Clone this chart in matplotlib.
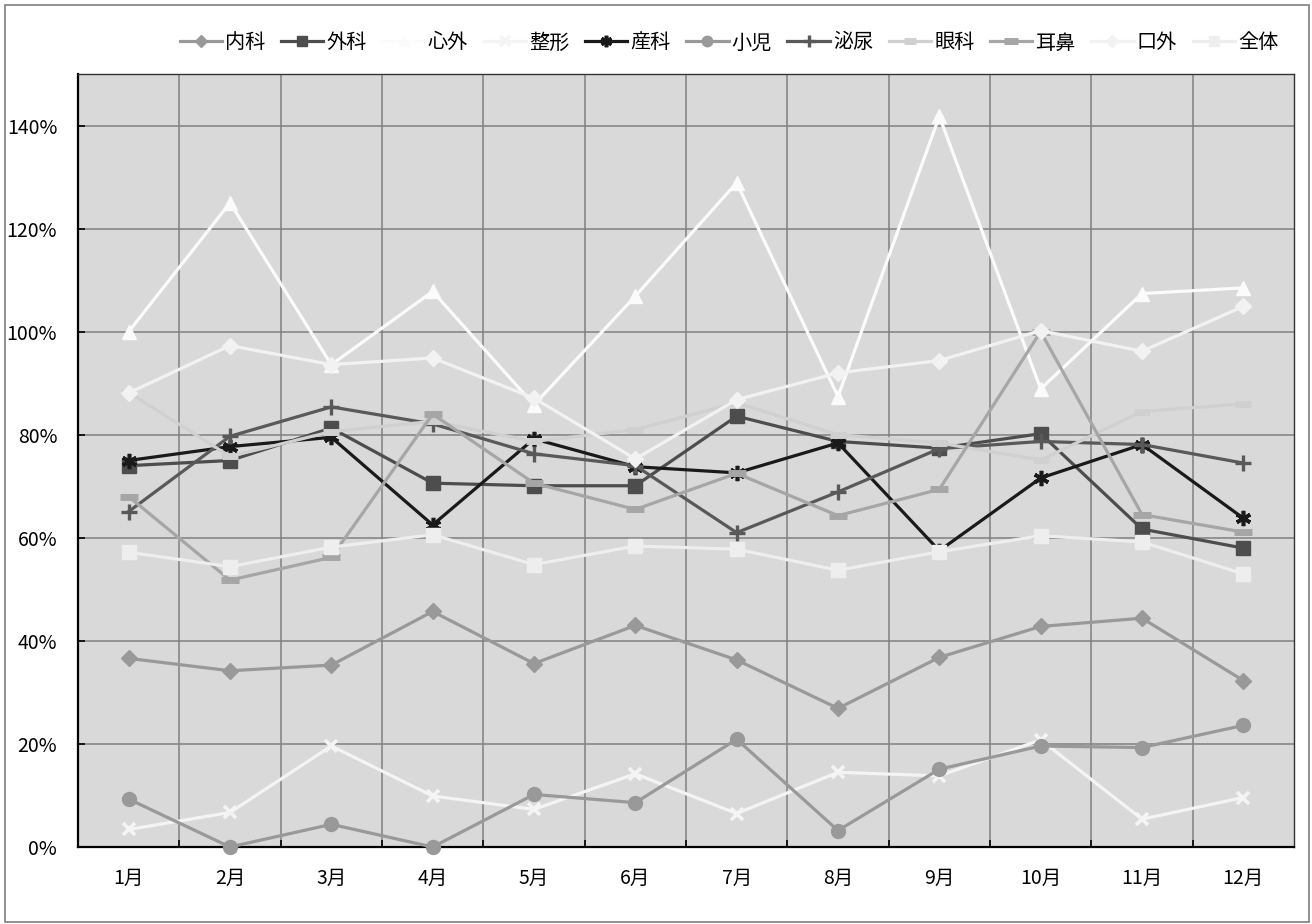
import matplotlib
matplotlib.use("Agg")
import matplotlib.pyplot as plt
from matplotlib.patches import Rectangle
from matplotlib.ticker import FixedLocator, FuncFormatter

plt.rcParams['font.family'] = ['Noto Sans CJK JP', 'DejaVu Sans']

months = ["1月", "2月", "3月", "4月", "5月", "6月", "7月", "8月", "9月", "10月", "11月", "12月"]

naika   = [36.6, 34.2, 35.3, 45.7, 35.6, 43.0, 36.3, 26.9, 36.8, 42.8, 44.4, 32.3]
geka    = [74.0, 75.0, 81.3, 70.6, 70.1, 70.1, 83.6, 78.7, 77.4, 80.2, 61.7, 58.0]
shingai = [100.0, 125.0, 93.6, 107.8, 85.8, 106.9, 128.9, 87.4, 141.8, 88.9, 107.4, 108.5]
seikei  = [3.4, 6.7, 19.6, 9.9, 7.3, 14.2, 6.5, 14.5, 13.8, 20.8, 5.4, 9.6]
sanka   = [75.0, 77.7, 79.5, 62.5, 79.2, 73.8, 72.6, 78.4, 57.5, 71.6, 78.1, 63.8]
shoni   = [9.3, 0.0, 4.4, 0.0, 10.2, 8.6, 20.9, 3.2, 15.1, 19.6, 19.3, 23.6]
hinyo   = [65.1, 79.7, 85.4, 82.1, 76.3, 74.0, 61.0, 68.9, 77.3, 78.7, 78.1, 74.5]
ganka   = [88.2, 75.8, 80.6, 82.6, 78.7, 81.0, 86.2, 80.0, 78.4, 75.1, 84.5, 86.0]
jibi    = [68.0, 51.8, 56.2, 84.0, 70.6, 65.5, 72.5, 64.3, 69.4, 100.0, 64.5, 61.1]
kogai   = [88.1, 97.3, 93.6, 94.9, 87.1, 75.3, 86.8, 92.0, 94.4, 100.2, 96.2, 104.9]
zentai  = [57.2, 54.4, 58.2, 60.6, 54.8, 58.4, 57.8, 53.7, 57.3, 60.4, 59.2, 53.0]

series_names = ["内科", "外科", "心外", "整形", "産科", "小児", "泌尿", "眼科", "耳鼻", "口外", "全体"]
series_vals = [naika, geka, shingai, seikei, sanka, shoni, hinyo, ganka, jibi, kogai, zentai]

styles = [
    dict(color="#999999", marker="D", ms=8),
    dict(color="#4d4d4d", marker="s", ms=9.5),
    dict(color="#fbfbfb", marker="^", ms=9.5),
    dict(color="#f4f4f4", marker="x", ms=9, mew=2.6),
    dict(color="#1a1a1a", marker=(6, 2, 0), ms=11, mew=2.6),
    dict(color="#999999", marker="o", ms=10),
    dict(color="#595959", marker="+", ms=11, mew=2.4),
    dict(color="#d0d0d0", marker="_", ms=11, mew=5),
    dict(color="#a6a6a6", marker="_", ms=13, mew=5),
    dict(color="#f2f2f2", marker="D", ms=8),
    dict(color="#eeeeee", marker="s", ms=9.5),
]

W, H = 1312, 924
fig = plt.figure(figsize=(W / 100, H / 100), dpi=100)
fig.patch.set_facecolor("white")
fig.patches.append(Rectangle((5 / W, 2 / H), 1304 / W, 917 / H, transform=fig.transFigure,
                             fill=False, edgecolor="#7f7f7f", linewidth=1.2))

ax = fig.add_axes([78 / W, 1 - 847 / H, (1294 - 78) / W, (847 - 74) / H])
ax.set_facecolor("#d9d9d9")

x = list(range(1, len(months) + 1))
handles = []
for name, vals, st in zip(series_names, series_vals, styles):
    st = dict(st)
    c = st.pop("color")
    mew = st.pop("mew", 1.0)
    ms = st.pop("ms")
    h, = ax.plot(x, vals, color=c, lw=2.3, marker=st["marker"], ms=ms, mew=mew,
                 mfc=c, mec=c, label=name, clip_on=False, zorder=3)
    handles.append(h)

ax.set_xlim(0.5, 12.5)
ax.set_ylim(0, 150)
ax.set_yticks(range(0, 141, 20))
ax.yaxis.set_major_formatter(FuncFormatter(lambda v, p: f"{int(v)}%"))
ax.set_xticks(x)
ax.set_xticklabels(months)
ax.xaxis.set_minor_locator(FixedLocator([i + 0.5 for i in range(1, 12)]))

ax.grid(True, which="major", axis="y", color="#808080", lw=1.1, zorder=1)
ax.grid(True, which="minor", axis="x", color="#808080", lw=1.1, zorder=1)
ax.set_axisbelow(True)

ax.tick_params(axis="x", which="major", length=0, pad=15, labelsize=14)
ax.tick_params(axis="x", which="minor", direction="in", length=5, width=1.2, color="black")
ax.tick_params(axis="y", which="major", direction="in", length=5, width=1.2, pad=15, labelsize=14)

for s in ["left", "bottom"]:
    ax.spines[s].set_color("#000000")
    ax.spines[s].set_linewidth(1.6)
for s in ["top", "right"]:
    ax.spines[s].set_color("#333333")
    ax.spines[s].set_linewidth(1.0)

leg = fig.legend(handles=handles, loc="center", bbox_to_anchor=(729 / W, 1 - 43 / H),
                 ncol=11, frameon=False, fontsize=14.5, handlelength=2.1, handletextpad=0.15,
                 columnspacing=0.78, markerscale=0.75)

fig.savefig("out.png", dpi=100, facecolor="white")
